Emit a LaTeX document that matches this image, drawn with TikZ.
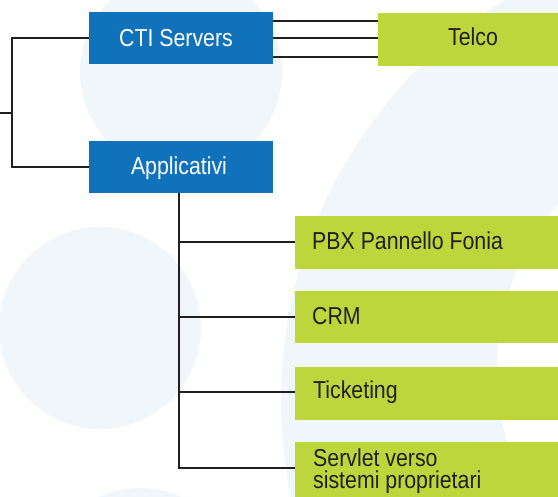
\documentclass[tikz,border=0pt]{standalone}
\usepackage{fontspec}
\setmainfont{Liberation Sans}[FakeStretch=0.87]
\definecolor{ctiblue}{RGB}{17,114,188}
\definecolor{ctigreen}{RGB}{189,214,59}
\definecolor{pale}{RGB}{241,246,250}
\definecolor{ink}{RGB}{35,31,32}
\begin{document}
\begin{tikzpicture}[x=1pt,y=-1pt,
  bluebox/.style={fill=ctiblue, draw=none, minimum width=184pt, minimum height=52pt, inner sep=0pt, outer sep=0pt, anchor=north west},
  greenbox/.style={fill=ctigreen, draw=none, minimum width=300pt, minimum height=53pt, inner sep=0pt, outer sep=0pt, anchor=north west},
  lbl/.style={inner sep=0pt, font=\fontsize{24.5}{22}\selectfont},
  wtext/.style={lbl, text=white, anchor=base},
  gtext/.style={lbl, text=ink, anchor=base west},
  conn/.style={draw=ink, line width=2.6pt, line join=miter},
  tconn/.style={draw=ink, line width=2.4pt}]
\useasboundingbox (0,0) rectangle (558,497);
\clip (0,0) rectangle (558,497);
% background
\fill[pale] (181,72) circle (101);
\fill[pale] (100,328) circle (101);
\fill[pale] (140,588) circle (100);
\fill[pale] (750,400) circle (469);
\fill[white] (754,370) circle (257);
% boxes
\node[bluebox] (cti) at (89,12) {};
\node[bluebox] (app) at (89,141) {};
\node[greenbox, minimum height=53pt] (telco) at (378,13) {};
\node[greenbox] (pbx) at (295,216) {};
\node[greenbox, minimum height=52pt] (crm) at (295,291) {};
\node[greenbox] (tick) at (295,367) {};
\node[greenbox, minimum height=55pt] (serv) at (295,442) {};
% texts
\node[wtext] (tcti) at (176,46.5) {CTI Servers};
\node[wtext] (tapp) at (179,175) {Applicativi};
\node[lbl, text=ink, anchor=base] (ttelco) at (473,46) {Telco};
\node[gtext] (tpbx) at (312,250) {PBX Pannello Fonia};
\node[gtext] (tcrm) at (312,325) {CRM};
\node[gtext] (ttick) at (313,399) {Ticketing};
\node[gtext, align=left] (tserv) at (313,489) {Servlet verso\\sistemi proprietari};
% connectors
\coordinate (stub) at (0,113);
\coordinate (bx) at (12,113);
\draw[conn] (stub) -- (bx);
\draw[conn] (cti.west) -| (bx) |- (app.west);
\draw[tconn] (cti.east |- 0,21) -- (telco.west |- 0,21);
\draw[tconn] (cti.east |- 0,38) -- (telco.west |- 0,38);
\draw[tconn] (cti.east |- 0,57) -- (telco.west |- 0,57);
\coordinate (trunk) at (179,193);
\coordinate (sv) at (295,468);
\draw[conn] (trunk) |- (sv);
\draw[conn] (trunk |- 0,242) -- (pbx.west |- 0,242);
\draw[conn] (trunk |- 0,317) -- (crm.west |- 0,317);
\draw[conn] (trunk |- 0,392) -- (tick.west |- 0,392);
\end{tikzpicture}
\end{document}
